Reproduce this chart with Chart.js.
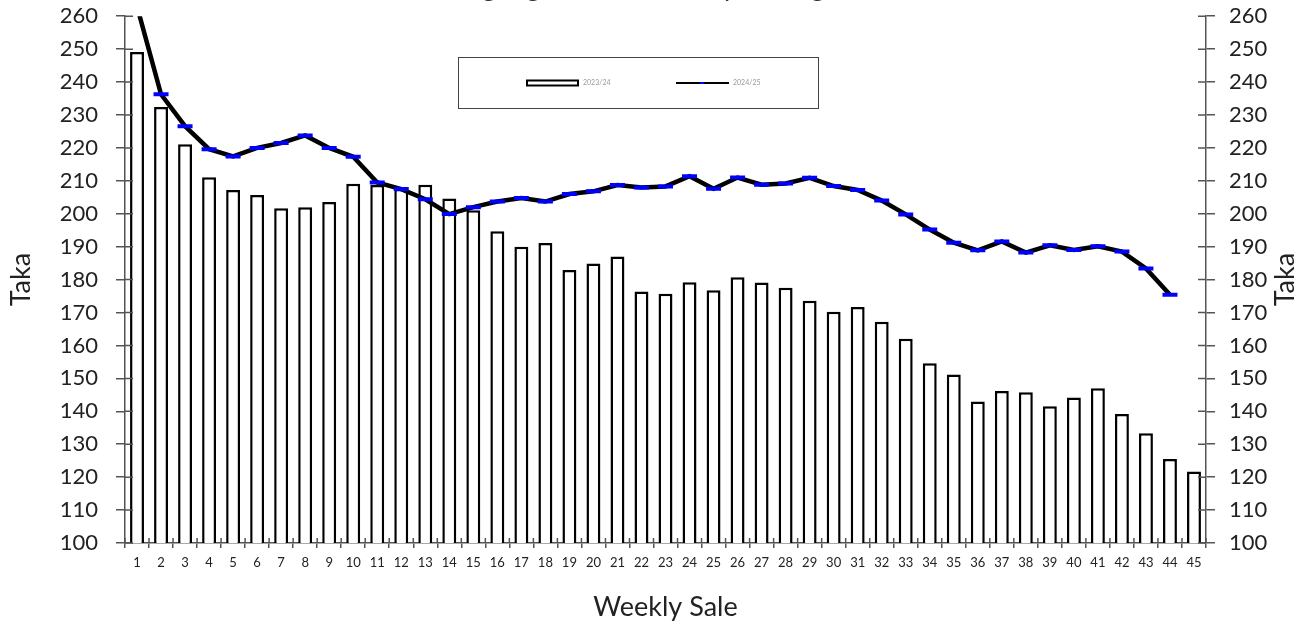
<!DOCTYPE html>
<html>
<head>
<meta charset="utf-8">
<script src="https://cdn.jsdelivr.net/npm/chart.js@4/dist/chart.umd.min.js"></script>
<style>
  html, body { margin: 0; padding: 0; background: #fff; }
  #wrap { position: relative; width: 1309px; height: 621px; overflow: hidden; }
  #auctionChart { position: absolute; left: 0; top: -15px; }
</style>
</head>
<body>
<div id="wrap"><canvas id="auctionChart" width="1309" height="636"></canvas></div>
<script>
// Chart data
const chartTitle = 'Chittagong Auction Weekly Average';
const weeks = ['1', '2', '3', '4', '5', '6', '7', '8', '9', '10', '11', '12', '13', '14', '15',
    '16', '17', '18', '19', '20', '21', '22', '23', '24', '25', '26', '27', '28', '29', '30',
    '31', '32', '33', '34', '35', '36', '37', '38', '39', '40', '41', '42', '43', '44', '45'];
const season2324 = [249.1, 232.4, 221.1, 211.1, 207.2, 205.7, 201.7, 202.0, 203.6, 209.1,
    208.7, 207.5, 208.8, 204.6, 201.1, 194.7, 190.0, 191.1, 182.9, 184.9,
    187.0, 176.4, 175.7, 179.2, 176.8, 180.7, 179.1, 177.5, 173.6, 170.2,
    171.7, 167.2, 162.0, 154.6, 151.2, 143.0, 146.2, 145.8, 141.5, 144.2,
    147.0, 139.2, 133.3, 125.5, 121.7];
const season2425 = [263, 236.3, 226.6, 219.6, 217.4, 220.0, 221.5, 223.8, 220.0, 217.3,
    209.5, 207.5, 204.4, 199.9, 202.0, 203.7, 204.8, 203.7, 206.0, 206.8,
    208.7, 208.0, 208.3, 211.4, 207.6, 211.0, 208.8, 209.2, 210.9, 208.4,
    207.2, 204.0, 199.8, 195.2, 191.2, 188.9, 191.6, 188.2, 190.4, 189.0,
    190.1, 188.5, 183.4, 175.4, null];
const yMin = 100;
const yMax = 260;
const yStep = 10;

const axisColor = '#555';
const fontFamily = 'Lato, "Open Sans", sans-serif';
const shift = 15; // canvas is moved up by this much, so the title is cut off

// Excel-style tick marks that also cross into the plot area
const crossTicks = {
    id: 'crossTicks',
    afterDraw(chart) {
        const { ctx, chartArea, scales } = chart;
        ctx.save();
        ctx.strokeStyle = axisColor;
        ctx.lineWidth = 1.5;
        ctx.beginPath();
        scales.y.ticks.forEach((t, i) => {
            const py = scales.y.getPixelForTick(i);
            ctx.moveTo(chartArea.left, py);
            ctx.lineTo(chartArea.left + 8, py);
            ctx.moveTo(chartArea.right, py);
            ctx.lineTo(chartArea.right - 8, py);
        });
        for (let i = 0; i <= weeks.length; i++) {
            const px = scales.x.getPixelForValue(i - 0.5);
            ctx.moveTo(px, chartArea.bottom);
            ctx.lineTo(px, chartArea.bottom - 5);
        }
        ctx.stroke();
        ctx.restore();
    }
};

// Title (cut off at the top), right axis title and the boxed legend
const decorations = {
    id: 'decorations',
    afterDraw(chart) {
        const { ctx, chartArea } = chart;
        const ds = chart.data.datasets;
        ctx.save();
        // title, mostly above the visible area
        ctx.fillStyle = '#333';
        ctx.font = '27px ' + fontFamily;
        ctx.textAlign = 'center';
        ctx.textBaseline = 'alphabetic';
        ctx.fillText(chartTitle, 625, shift - 4);

        // right axis title, reading bottom to top like the left one
        ctx.save();
        ctx.translate(1285, (chartArea.top + chartArea.bottom) / 2);
        ctx.rotate(-Math.PI / 2);
        ctx.textBaseline = 'middle';
        ctx.fillStyle = '#222';
        ctx.fillText('Taka', 0, 0);
        ctx.restore();

        // legend box
        const ly = 83 + shift;
        ctx.strokeStyle = '#444';
        ctx.lineWidth = 1;
        ctx.strokeRect(458.5, 57.5 + shift, 360, 51);
        const bar = ds.find(d => d.type === 'bar');
        const line = ds.find(d => d.type === 'line');
        ctx.fillStyle = bar.backgroundColor;
        ctx.fillRect(527, ly - 2.5, 51, 5);
        ctx.strokeStyle = bar.borderColor;
        ctx.lineWidth = 2;
        ctx.strokeRect(527, ly - 2.5, 51, 5);
        ctx.strokeStyle = line.borderColor;
        ctx.lineWidth = 2;
        ctx.beginPath();
        ctx.moveTo(676, ly);
        ctx.lineTo(729, ly);
        ctx.stroke();
        ctx.strokeStyle = line.pointBorderColor;
        ctx.beginPath();
        ctx.moveTo(700, ly);
        ctx.lineTo(704, ly);
        ctx.stroke();
        ctx.fillStyle = '#999';
        ctx.font = '7px ' + fontFamily;
        ctx.textAlign = 'left';
        ctx.textBaseline = 'middle';
        ctx.fillText(bar.label, 583, ly);
        ctx.fillText(line.label, 733, ly);
        ctx.restore();
    }
};

const ctx = document.getElementById('auctionChart').getContext('2d');
const auctionChart = new Chart(ctx, {
    data: {
        labels: weeks,
        datasets: [{
            type: 'line',
            label: '2024/25',
            data: season2425,
            borderColor: '#000',
            borderWidth: 4.5,
            tension: 0,
            pointStyle: 'line',
            pointRadius: 7.5,
            pointBorderWidth: 4,
            pointBorderColor: '#0000ff',
            pointBackgroundColor: '#0000ff',
            order: 1,
            yAxisID: 'y'
        }, {
            type: 'bar',
            label: '2023/24',
            data: season2324,
            backgroundColor: '#fff',
            borderColor: '#000',
            borderWidth: 2.5,
            borderSkipped: false,
            categoryPercentage: 1,
            barPercentage: 0.58,
            order: 2,
            yAxisID: 'y'
        }]
    },
    options: {
        responsive: false,
        animation: false,
        layout: { padding: { top: 0, left: 0, right: 0, bottom: 0 } },
        plugins: {
            legend: { display: false },
            tooltip: { enabled: false },
            title: { display: false }
        },
        scales: {
            x: {
                grid: { display: true, offset: true, drawOnChartArea: false, tickLength: 5, color: axisColor, lineWidth: 1.5 },
                border: { color: axisColor, width: 1.5 },
                ticks: { color: '#222', font: { family: fontFamily, size: 13 }, maxRotation: 0, autoSkip: false, padding: 7 },
                title: { display: true, text: 'Weekly Sale', color: '#222', font: { family: fontFamily, size: 27, lineHeight: 1 }, padding: 0 },
                afterFit: s => { s.height = 78; }
            },
            y: {
                position: 'left',
                min: yMin,
                max: yMax,
                grid: { drawOnChartArea: false, tickLength: 9, color: axisColor, lineWidth: 1.5 },
                border: { color: axisColor, width: 1.5 },
                ticks: { stepSize: yStep, color: '#222', font: { family: fontFamily, size: 22 }, padding: 18 },
                title: { display: true, text: 'Taka', color: '#222', font: { family: fontFamily, size: 27 }, padding: { top: 5, bottom: 0 } },
                afterFit: s => { s.width = 125; }
            },
            y2: {
                position: 'right',
                min: yMin,
                max: yMax,
                grid: { drawOnChartArea: false, tickLength: 9, color: axisColor, lineWidth: 1.5 },
                border: { color: axisColor, width: 1.5 },
                ticks: { stepSize: yStep, color: '#222', font: { family: fontFamily, size: 22 }, padding: 14 },
                afterFit: s => { s.width = 103; }
            }
        }
    },
    plugins: [crossTicks, decorations]
});
</script>
</body>
</html>
